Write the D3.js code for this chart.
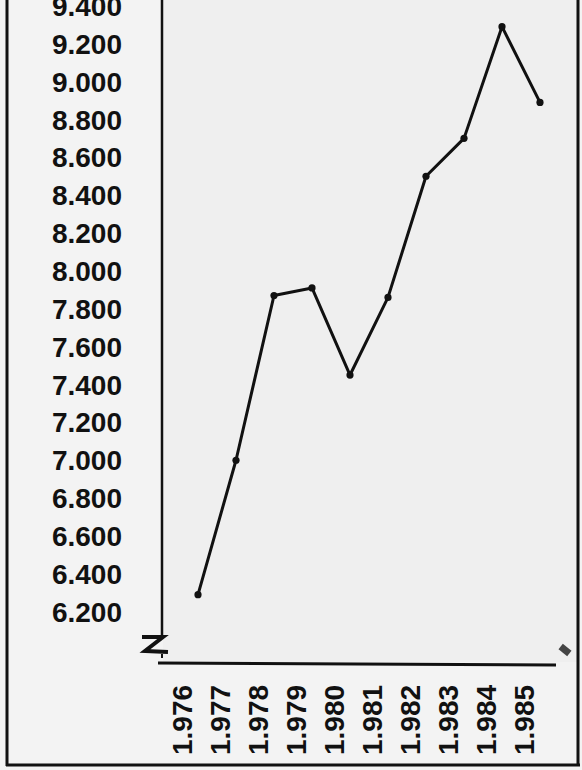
<!DOCTYPE html>
<html><head><meta charset="utf-8">
<script src="https://cdn.jsdelivr.net/npm/d3@7"></script>
<style>
html,body{margin:0;padding:0;background:#f3f3f3;}
svg{display:block;}
text{font-family:"Liberation Sans",Arial,sans-serif;font-weight:bold;fill:#111;}
</style></head>
<body><svg id="c" width="582" height="770"></svg>
<script>
const years = [1976,1977,1978,1979,1980,1981,1982,1983,1984,1985];
const yearLabels = ["1.976","1.977","1.978","1.979","1.980","1.981","1.982","1.983","1.984","1.985"];
const values = [6.29,7.00,7.87,7.91,7.45,7.86,8.50,8.70,9.29,8.89];
const yTicks = [6.2,6.4,6.6,6.8,7.0,7.2,7.4,7.6,7.8,8.0,8.2,8.4,8.6,8.8,9.0,9.2,9.4];
const yTickLabels = ["6.200","6.400","6.600","6.800","7.000","7.200","7.400","7.600","7.800","8.000","8.200","8.400","8.600","8.800","9.000","9.200","9.400"];

const svg = d3.select("#c");
const W = 582, H = 770;

svg.append("rect").attr("x",0).attr("y",0).attr("width",W).attr("height",H).attr("fill","#f3f3f3");
svg.append("rect").attr("x",163).attr("y",0).attr("width",414).attr("height",662).attr("fill","#efefef");

const x = d3.scalePoint().domain(years).range([198,540]);
const y = d3.scaleLinear().domain([6.2,9.2]).range([611.7,43.7]);

// outer frame
svg.append("line").attr("x1",7).attr("x2",7).attr("y1",0).attr("y2",766).attr("stroke","#111").attr("stroke-width",3);
svg.append("line").attr("x1",578).attr("x2",578).attr("y1",0).attr("y2",766).attr("stroke","#111").attr("stroke-width",3);
svg.append("line").attr("x1",6).attr("x2",580).attr("y1",765).attr("y2",765).attr("stroke","#111").attr("stroke-width",3);

// y axis line
svg.append("line").attr("x1",162).attr("x2",162).attr("y1",0).attr("y2",637).attr("stroke","#111").attr("stroke-width",2.5);
// axis break mark
svg.append("path").attr("d","M142,637 L163,637 L145,651 L168,652").attr("fill","none")
  .attr("stroke","#111").attr("stroke-width",4).attr("stroke-linejoin","miter");
svg.append("line").attr("x1",162).attr("x2",162).attr("y1",654).attr("y2",658).attr("stroke","#111").attr("stroke-width",2);
// x axis line
svg.append("line").attr("x1",158).attr("x2",556).attr("y1",663).attr("y2",665).attr("stroke","#111").attr("stroke-width",3);
// small diamond mark at right
svg.append("rect").attr("x",-5.5).attr("y",-3.5).attr("width",11).attr("height",7).attr("fill","#444")
  .attr("transform","translate(565,650) rotate(38)");

// y tick labels
svg.append("g").selectAll("text").data(yTicks).join("text")
  .attr("x",122).attr("y",d=>y(d)).attr("dy","0.36em")
  .attr("text-anchor","end").attr("font-size",28)
  .text((d,i)=>yTickLabels[i]);

// x tick labels (rotated)
svg.append("g").selectAll("text").data(years).join("text")
  .attr("transform",d=>`translate(${x(d)-16},755) rotate(-90)`)
  .attr("dy","0.36em").attr("text-anchor","start").attr("font-size",28)
  .text((d,i)=>yearLabels[i]);

// line
const line = d3.line().x((d,i)=>x(years[i])).y(d=>y(d));
svg.append("path").datum(values).attr("d",line).attr("fill","none")
  .attr("stroke","#111").attr("stroke-width",3).attr("stroke-linejoin","round");
svg.append("g").selectAll("circle").data(values).join("circle")
  .attr("cx",(d,i)=>x(years[i])).attr("cy",d=>y(d)).attr("r",3.6).attr("fill","#111");
</script></body></html>
